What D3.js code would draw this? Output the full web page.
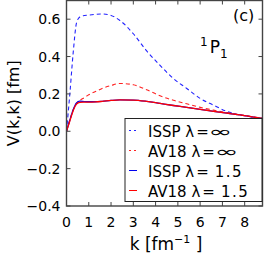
<!DOCTYPE html>
<html>
<head>
<meta charset="utf-8">
<script src="https://cdn.jsdelivr.net/npm/d3@7"></script>
<style>
    body { margin: 0; background: #fff; }
    text { font-family: "DejaVu Sans", sans-serif; fill: #000; }
</style>
</head>
<body>
<div id="chart"></div>
<script>
// k grid (fm^-1) shared by all curves
const kValues = [0, 0.15, 0.3, 0.45, 0.6, 0.8, 1.0, 1.3, 1.6, 2.0, 2.4, 3.0, 3.6, 4.2, 4.8, 5.4, 6.0, 6.6, 7.2, 8.0, 8.8];

// V(k,k) in fm
const isspInf = [0, 0.2, 0.42, 0.58, 0.612, 0.62, 0.622, 0.626, 0.628, 0.62, 0.593, 0.522, 0.43, 0.353, 0.282, 0.229, 0.176, 0.14, 0.106, 0.083, 0.068];
const av18Inf = [0, 0.06, 0.115, 0.15, 0.165, 0.18, 0.195, 0.213, 0.229, 0.245, 0.256, 0.249, 0.222, 0.19, 0.166, 0.147, 0.128, 0.113, 0.1, 0.085, 0.069];
const isspSrg = [0, 0.06, 0.115, 0.152, 0.161, 0.159, 0.158, 0.158, 0.16, 0.165, 0.168, 0.167, 0.16, 0.149, 0.138, 0.128, 0.117, 0.107, 0.097, 0.084, 0.069];
const av18Srg = [0, 0.055, 0.11, 0.145, 0.155, 0.156, 0.156, 0.157, 0.16, 0.165, 0.168, 0.167, 0.16, 0.149, 0.138, 0.128, 0.117, 0.107, 0.097, 0.084, 0.069];

const xTicks = [0, 1, 2, 3, 4, 5, 6, 7, 8];
const yTicks = [-0.4, -0.2, 0.0, 0.2, 0.4, 0.6];

const series = [
    { name: 'ISSP', lam: 'inf', values: isspInf, color: '#2222ff', dash: '4,3' },
    { name: 'AV18', lam: 'inf', values: av18Inf, color: '#ff2222', dash: '4,3' },
    { name: 'ISSP', lam: '1.5', values: isspSrg, color: '#0000ee', dash: null },
    { name: 'AV18', lam: '1.5', values: av18Srg, color: '#ff0000', dash: null }
];

const width = 266;
const height = 253;
const margin = { top: 0.5, right: 3.5, bottom: 47, left: 66.5 };

const svg = d3.select('#chart')
    .append('svg')
    .attr('width', width)
    .attr('height', height);

const x = d3.scaleLinear().domain([0, 8.8]).range([margin.left, width - margin.right]);
const y = d3.scaleLinear().domain([-0.4, 0.7]).range([height - margin.bottom, margin.top]);

const fmt = d => d3.format('.1f')(d).replace('-', '\u2212');

// curves
const line = d3.line()
    .curve(d3.curveMonotoneX)
    .x(d => x(d[0]))
    .y(d => y(d[1]));

svg.append('g')
    .selectAll('path')
    .data(series)
    .join('path')
    .attr('d', s => line(kValues.map((k, i) => [k, s.values[i]])))
    .attr('fill', 'none')
    .attr('stroke', s => s.color)
    .attr('stroke-width', s => s.dash ? 1.1 : 1.3)
    .attr('stroke-dasharray', s => s.dash);

// frame and inward ticks
const frame = svg.append('g').attr('stroke', '#444').attr('stroke-width', 1);
xTicks.forEach(t => {
    frame.append('line').attr('x1', x(t)).attr('x2', x(t)).attr('y1', y(-0.4)).attr('y2', y(-0.4) - 4);
    frame.append('line').attr('x1', x(t)).attr('x2', x(t)).attr('y1', y(0.7)).attr('y2', y(0.7) + 4);
});
yTicks.forEach(t => {
    frame.append('line').attr('x1', x(0)).attr('x2', x(0) + 4).attr('y1', y(t)).attr('y2', y(t));
    frame.append('line').attr('x1', x(8.8)).attr('x2', x(8.8) - 4).attr('y1', y(t)).attr('y2', y(t));
});
frame.append('rect')
    .attr('x', x(0)).attr('y', y(0.7))
    .attr('width', x(8.8) - x(0)).attr('height', y(-0.4) - y(0.7))
    .attr('fill', 'none').attr('stroke-width', 1.4);

// tick labels
svg.append('g').selectAll('text')
    .data(xTicks).join('text')
    .attr('x', d => x(d)).attr('y', y(-0.4) + 21)
    .attr('text-anchor', 'middle')
    .style('font-size', '14px')
    .text(d => d);

svg.append('g').selectAll('text')
    .data(yTicks).join('text')
    .attr('x', x(0) - 6).attr('y', d => y(d) + 5)
    .attr('text-anchor', 'end')
    .style('font-size', '14px')
    .text(fmt);

// axis titles
const xt = svg.append('text')
    .attr('x', 166).attr('y', 250)
    .attr('text-anchor', 'middle')
    .style('font-size', '17px');
xt.append('tspan').text('k [fm');
xt.append('tspan').attr('dy', -7).style('font-size', '11px').text('\u22121');
xt.append('tspan').attr('dy', 7).text(' ]');

svg.append('text')
    .attr('transform', `translate(19, ${y(0.15)}) rotate(-90)`)
    .attr('text-anchor', 'middle')
    .style('font-size', '16px')
    .text('V(k,k) [fm]');

// panel label and partial wave
svg.append('text')
    .attr('x', 233).attr('y', 21)
    .style('font-size', '16px')
    .text('(c)');

const pw = svg.append('text')
    .attr('x', 200).attr('y', 53)
    .style('font-size', '17px');
pw.append('tspan').attr('dy', -7).style('font-size', '12px').text('1');
pw.append('tspan').attr('dy', 7).attr('dx', 2).text('P');
pw.append('tspan').attr('dy', 5).style('font-size', '12px').text('1');

// legend
const lx = x(0) + 58.5;
const ly = 118.5;
const legend = svg.append('g');
legend.append('rect')
    .attr('x', lx).attr('y', ly)
    .attr('width', 137).attr('height', 83)
    .attr('fill', '#fff')
    .attr('stroke', '#222')
    .attr('stroke-width', 1);

series.forEach((s, i) => {
    const yy = ly + 12 + i * 20;
    legend.append('line')
        .attr('x1', lx + 4).attr('x2', lx + 12)
        .attr('y1', yy).attr('y2', yy)
        .attr('stroke', s.color)
        .attr('stroke-width', 1)
        .attr('stroke-dasharray', s.dash ? '2,3' : null);

    const t = legend.append('text')
        .attr('x', lx + 23).attr('y', yy + 6)
        .style('font-size', '15px');
    t.append('tspan').text(s.name + ' ');
    t.append('tspan').text('\u03bb');
    t.append('tspan').attr('dx', 2).text('=');
    if (s.lam === 'inf') {
        const w = t.node().getComputedTextLength();
        legend.append('text')
            .attr('transform', `translate(${lx + 23 + w + 2}, ${yy + 6}) scale(1.9, 1)`)
            .style('font-size', '15px')
            .text('\u221e');
    } else {
        t.append('tspan').attr('dx', 6).attr('letter-spacing', '1.5px').text('1.5');
    }
});
</script>
</body>
</html>
